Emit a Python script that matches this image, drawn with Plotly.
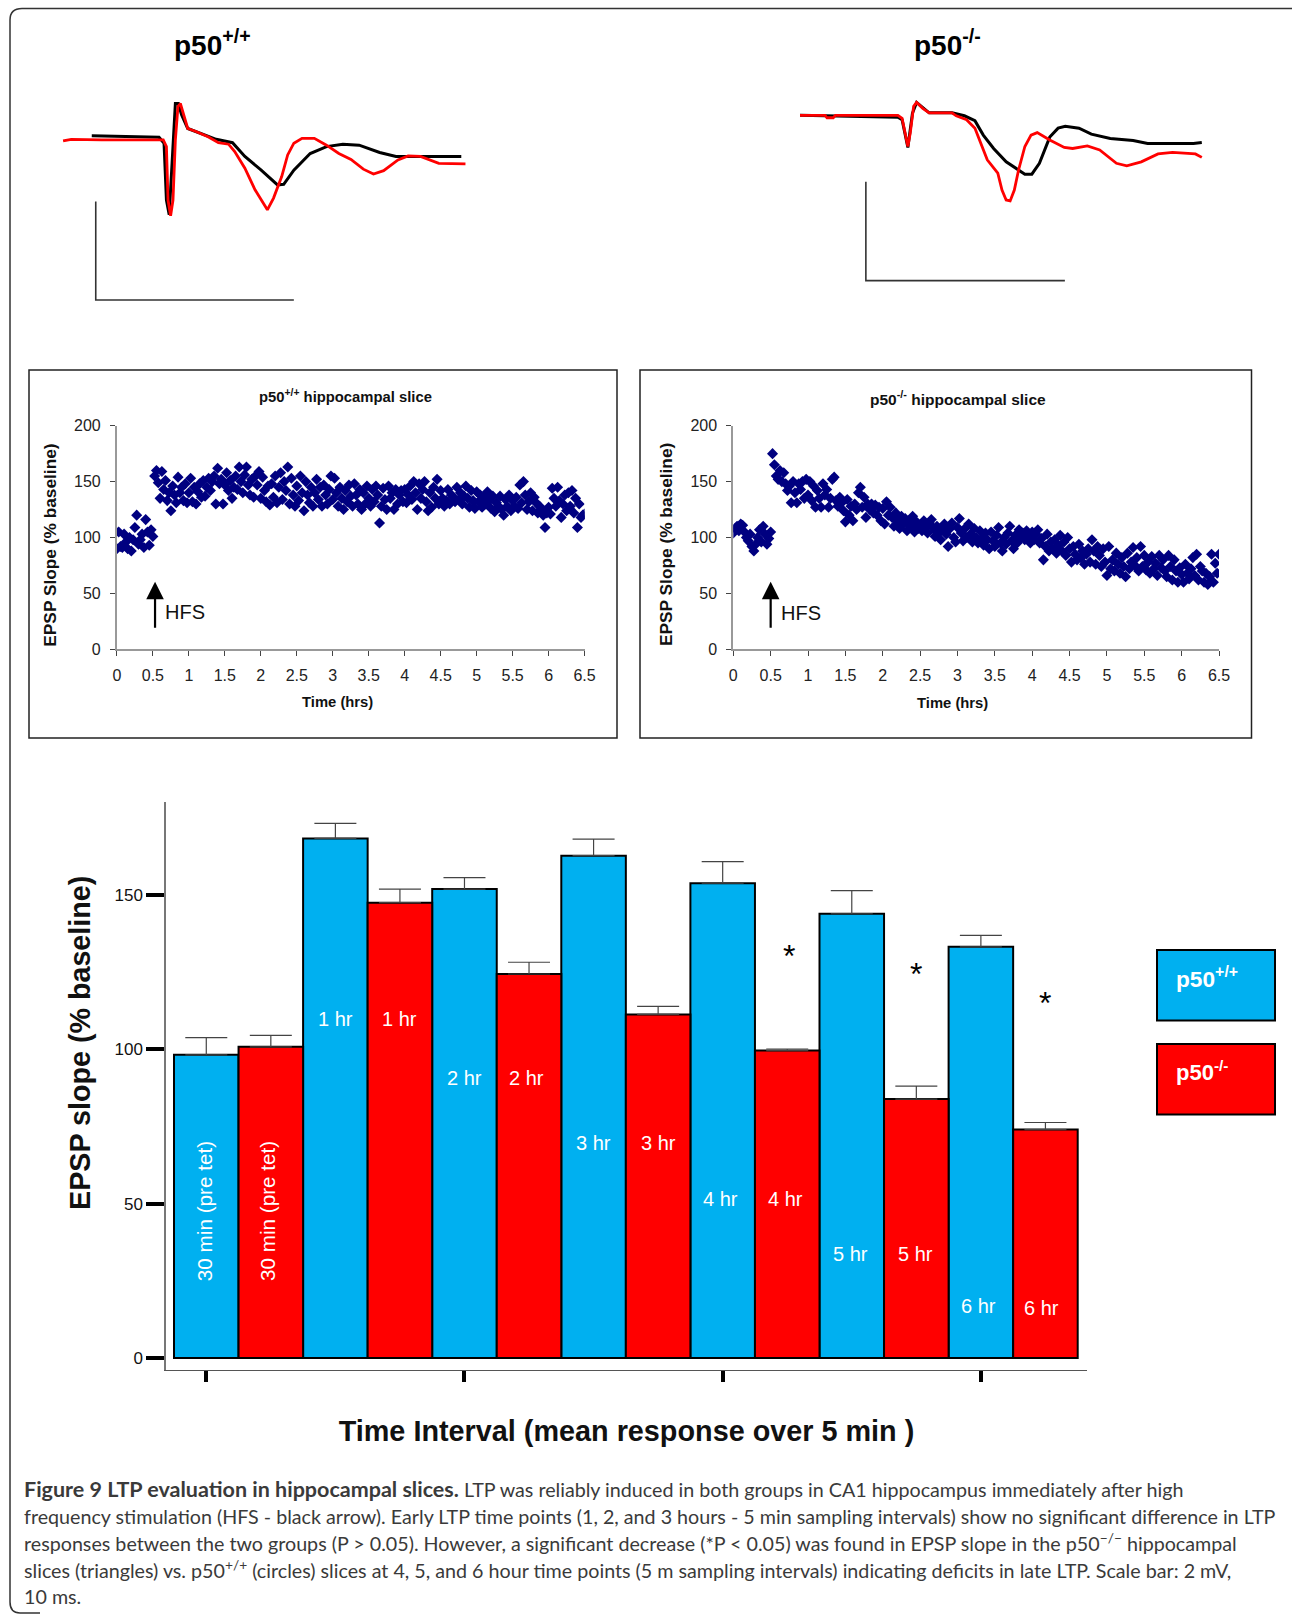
import plotly.graph_objects as go

W = 1292
H = 1614

# bar chart values (% baseline)
bar_labels = ["30 min (pre tet)", "1 hr", "2 hr", "3 hr", "4 hr", "5 hr", "6 hr"]
wt_mean = [98.2, 168.3, 151.9, 162.7, 153.8, 143.9, 133.2]
wt_err = [5.6, 4.9, 3.7, 5.4, 7.0, 7.5, 3.7]
ko_mean = [100.8, 147.5, 124.4, 111.3, 99.6, 83.9, 74.0]
ko_err = [3.7, 4.4, 3.8, 2.6, 0.5, 4.2, 2.3]
wt_pos = [0, 2, 4, 6, 8, 10, 12]
ko_pos = [1, 3, 5, 7, 9, 11, 13]
wt_label_x = [-0.03, 2, 4, 6, 7.97, 9.98, 11.97]
ko_label_x = [0.96, 3, 4.96, 7, 8.97, 10.98, 12.94]
wt_label_y = [47.7, 109.7, 90.6, 69.8, 51.5, 33.8, 16.9]
ko_label_y = [47.7, 109.7, 90.6, 69.8, 51.5, 33.8, 16.2]
star_x = [9.03, 11.0, 13.0]
star_y = [130.3, 124.3, 115]

# scatter panels, time in hrs
scatter_time = [
    0.0, 0.025, 0.05, 0.075, 0.1, 0.125, 0.15, 0.175, 0.2, 0.225, 0.25, 0.275, 0.3, 0.325, 0.35, 0.375, 0.4, 0.425, 0.45, 0.475,
    0.5, 0.525, 0.55, 0.575, 0.6, 0.625, 0.65, 0.675, 0.7, 0.725, 0.75, 0.775, 0.8, 0.825, 0.85, 0.875, 0.9, 0.925, 0.95, 0.975,
    1.0, 1.025, 1.05, 1.075, 1.1, 1.125, 1.15, 1.175, 1.2, 1.225, 1.25, 1.275, 1.3, 1.325, 1.35, 1.375, 1.4, 1.425, 1.45, 1.475,
    1.5, 1.525, 1.55, 1.575, 1.6, 1.625, 1.65, 1.675, 1.7, 1.725, 1.75, 1.775, 1.8, 1.825, 1.85, 1.875, 1.9, 1.925, 1.95, 1.975,
    2.0, 2.025, 2.05, 2.075, 2.1, 2.125, 2.15, 2.175, 2.2, 2.225, 2.25, 2.275, 2.3, 2.325, 2.35, 2.375, 2.4, 2.425, 2.45, 2.475,
    2.5, 2.525, 2.55, 2.575, 2.6, 2.625, 2.65, 2.675, 2.7, 2.725, 2.75, 2.775, 2.8, 2.825, 2.85, 2.875, 2.9, 2.925, 2.95, 2.975,
    3.0, 3.025, 3.05, 3.075, 3.1, 3.125, 3.15, 3.175, 3.2, 3.225, 3.25, 3.275, 3.3, 3.325, 3.35, 3.375, 3.4, 3.425, 3.45, 3.475,
    3.5, 3.525, 3.55, 3.575, 3.6, 3.625, 3.65, 3.675, 3.7, 3.725, 3.75, 3.775, 3.8, 3.825, 3.85, 3.875, 3.9, 3.925, 3.95, 3.975,
    4.0, 4.025, 4.05, 4.075, 4.1, 4.125, 4.15, 4.175, 4.2, 4.225, 4.25, 4.275, 4.3, 4.325, 4.35, 4.375, 4.4, 4.425, 4.45, 4.475,
    4.5, 4.525, 4.55, 4.575, 4.6, 4.625, 4.65, 4.675, 4.7, 4.725, 4.75, 4.775, 4.8, 4.825, 4.85, 4.875, 4.9, 4.925, 4.95, 4.975,
    5.0, 5.025, 5.05, 5.075, 5.1, 5.125, 5.15, 5.175, 5.2, 5.225, 5.25, 5.275, 5.3, 5.325, 5.35, 5.375, 5.4, 5.425, 5.45, 5.475,
    5.5, 5.525, 5.55, 5.575, 5.6, 5.625, 5.65, 5.675, 5.7, 5.725, 5.75, 5.775, 5.8, 5.825, 5.85, 5.875, 5.9, 5.925, 5.95, 5.975,
    6.0, 6.025, 6.05, 6.075, 6.1, 6.125, 6.15, 6.175, 6.2, 6.225, 6.25, 6.275, 6.3, 6.325, 6.35, 6.375, 6.4, 6.425, 6.45, 6.475, 6.5,
]
wt_slope = [
    90, 105, 92, 91, 103, 96, 90, 100, 88, 98, 109, 120, 94, 98, 103, 91, 116, 105, 93, 107,
    101, 155, 160, 149, 135, 159, 143, 151, 133, 140, 124, 146, 138, 131, 154, 140, 145, 133, 148, 131,
    140, 153, 132, 145, 130, 141, 148, 136, 151, 137, 145, 153, 142, 150, 155, 130, 162, 148, 152, 130,
    147, 158, 142, 151, 135, 145, 155, 143, 163, 150, 140, 156, 163, 147, 138, 152, 136, 155, 147, 159,
    135, 154, 142, 132, 146, 129, 148, 136, 155, 131, 145, 158, 134, 150, 142, 163, 130, 153, 138, 128,
    146, 133, 155, 140, 124, 150, 138, 131, 145, 128, 140, 152, 134, 145, 128, 147, 138, 130, 143, 155,
    134, 153, 140, 128, 145, 135, 125, 142, 132, 147, 137, 128, 148, 138, 130, 143, 125, 140, 130, 146,
    135, 128, 143, 132, 146, 138, 113, 128, 144, 134, 125, 146, 135, 140, 125, 143, 130, 138, 142, 132,
    143, 131, 138, 146, 134, 150, 140, 125, 148, 135, 143, 150, 132, 124, 140, 127, 145, 135, 152, 130,
    142, 135, 128, 133, 143, 130, 138, 136, 132, 145, 134, 140, 130, 137, 146, 135, 127, 142, 133, 126,
    141, 132, 138, 127, 136, 130, 141, 133, 126, 137, 123, 131, 128, 137, 125, 120, 134, 128, 138, 124,
    133, 128, 136, 126, 147, 131, 150, 138, 125, 132, 140, 124, 136, 131, 122, 128, 126, 120, 109, 122,
    127, 121, 144, 135, 128, 145, 133, 118, 130, 138, 124, 140, 128, 142, 122, 135, 109, 130, 118, 120, 121,
]
ko_slope = [
    104, 108, 110, 106, 112, 111, 105, 100, 97, 103, 92, 88, 94, 100, 107, 96, 110, 103, 94, 99,
    105, 175, 165, 155, 152, 160, 150, 158, 148, 142, 146, 131, 150, 140, 131, 148, 143, 150, 135, 152,
    138, 150, 133, 146, 127, 142, 135, 127, 148, 138, 143, 127, 135, 152, 154, 133, 128, 136, 131, 124,
    114, 134, 120, 128, 115, 130, 125, 140, 145, 127, 136, 118, 130, 125, 130, 122, 129, 120, 127, 115,
    126, 112, 132, 120, 127, 118, 110, 122, 115, 108, 119, 112, 117, 106, 115, 110, 119, 105, 114, 108,
    111, 106, 115, 110, 104, 113, 116, 108, 101, 110, 104, 98, 107, 112, 103, 92, 108, 113, 100, 96,
    109, 117, 104, 97, 108, 100, 112, 103, 96, 108, 100, 95, 106, 99, 93, 104, 98, 90, 105, 97,
    92, 102, 109, 95, 88, 100, 94, 104, 110, 97, 90, 102, 95, 107, 100, 104, 98, 106, 101, 95,
    105, 98, 103, 107, 95, 99, 80, 92, 103, 88, 96, 90, 98, 86, 93, 102, 88, 96, 84, 100,
    90, 78, 92, 85, 80, 94, 82, 88, 76, 85, 90, 78, 98, 88, 76, 92, 84, 74, 90, 78,
    66, 92, 72, 80, 70, 86, 76, 68, 82, 74, 65, 86, 72, 78, 91, 75, 82, 70, 92, 74,
    84, 71, 78, 68, 83, 72, 77, 66, 84, 73, 80, 70, 65, 84, 74, 62, 80, 70, 60, 73,
    67, 60, 76, 68, 63, 72, 82, 66, 85, 62, 74, 70, 60, 68, 58, 65, 85, 60, 77, 68, 85,
]
x_ticks = [0, 0.5, 1, 1.5, 2, 2.5, 3, 3.5, 4, 4.5, 5, 5.5, 6, 6.5]
x_tick_text = ["0", "0.5", "1", "1.5", "2", "2.5", "3", "3.5", "4", "4.5", "5", "5.5", "6", "6.5"]
y_ticks = [0, 50, 100, 150, 200]

# field potential sweeps, time in ms and response in mV
wt_red_t = [0.06, 0.47, 2.01, 5.09, 5.25, 5.33, 5.46, 5.58, 5.70, 5.83, 5.95, 6.11, 6.32, 6.73, 7.34, 7.86, 8.37, 8.68, 9.19, 9.70,
            10.32, 10.63, 11.04, 11.34, 11.65, 12.06, 12.68, 13.29, 13.91, 14.52, 15.14, 15.65, 16.16, 16.88, 17.39, 18.01, 18.93, 20.27]
wt_red_v = [-0.03, 0, -0.01, -0.01, -0.15, -1.24, -1.56, -1.24, -0.01, 0.67, 0.73, 0.53, 0.22, 0.16, 0.05, -0.07, -0.10, -0.25, -0.59, -1.03,
            -1.44, -1.20, -0.76, -0.32, -0.08, 0.02, 0.02, -0.12, -0.29, -0.41, -0.61, -0.71, -0.64, -0.42, -0.34, -0.35, -0.49, -0.50]
wt_black_t = [1.50, 3.04, 4.88, 5.13, 5.25, 5.39, 5.54, 5.70, 5.85, 6.01, 6.32, 6.93, 7.75, 8.57, 9.19, 10.01, 10.83, 11.14, 11.65,
              12.47, 13.29, 14.11, 14.93, 15.96, 16.78, 20.06]
wt_black_v = [0.07, 0.05, 0.04, -0.08, -1.24, -1.54, -0.42, 0.73, 0.73, 0.50, 0.22, 0.12, 0, -0.07, -0.35, -0.63, -0.93, -0.92, -0.63,
              -0.29, -0.15, -0.10, -0.12, -0.27, -0.35, -0.35]
ko_red_t = [0, 1.26, 1.36, 1.67, 1.78, 4.92, 5.13, 5.42, 5.54, 5.71, 5.86, 6.17, 6.49, 7.64, 7.85, 8.37, 8.79, 9.10, 9.41, 9.94,
            10.15, 10.36, 10.56, 10.77, 10.98, 11.30, 11.61, 11.92, 12.55, 13.28, 13.70, 14.44, 15.06, 15.90, 16.42, 17.15, 17.99, 18.72, 19.87, 20.19]
ko_red_v = [0, 0, -0.05, -0.05, 0, 0, -0.06, -0.63, -0.36, 0.18, 0.26, 0.14, 0.05, 0.05, -0.01, -0.09, -0.26, -0.57, -0.90, -1.17,
            -1.51, -1.71, -1.73, -1.51, -1.11, -0.63, -0.40, -0.35, -0.50, -0.65, -0.67, -0.62, -0.70, -0.97, -1.02, -0.94, -0.78, -0.75, -0.78, -0.85]
ko_black_t = [0, 4.92, 5.13, 5.42, 5.65, 5.86, 6.49, 7.64, 8.26, 8.79, 9.21, 9.73, 10.36, 10.88, 11.30, 11.65, 12.03, 12.55, 12.97, 13.33,
              14.02, 14.64, 15.59, 16.74, 17.47, 19.77, 20.19]
ko_black_v = [0, -0.04, -0.09, -0.65, 0.04, 0.26, 0.05, 0.05, -0.01, -0.11, -0.40, -0.67, -0.94, -1.07, -1.19, -1.19, -0.97, -0.44, -0.26, -0.22,
              -0.26, -0.38, -0.47, -0.51, -0.57, -0.57, -0.55]

# scale bars: 10 ms, 2 mV
wt_scale_t = [1.70, 1.70, 11.65]
wt_scale_v = [-1.27, -3.28, -3.28]
ko_scale_t = [3.31, 3.31, 13.31]
ko_scale_v = [-1.34, -3.34, -3.34]

caption_lines = [
    "<b><span style=\"font-size:21.5px\">Figure 9 LTP evaluation in hippocampal slices.</span></b> LTP was reliably induced in both groups in CA1 hippocampus immediately after high",
    "frequency stimulation (HFS - black arrow). Early LTP time points (1, 2, and 3 hours - 5 min sampling intervals) show no significant difference in LTP",
    "responses between the two groups (P > 0.05). However, a significant decrease (*P < 0.05) was found in EPSP slope in the p50<sup>−/−</sup> hippocampal",
    "slices (triangles) vs. p50<sup>+/+</sup> (circles) slices at 4, 5, and 6 hour time points (5 m sampling intervals) indicating deficits in late LTP. Scale bar: 2 mV,",
    "10 ms.",
]
caption_y = [1489, 1516, 1542, 1569, 1596]

BLUE = "#00B0F0"
RED = "#FF0000"
NAVY = "#000080"
FONT = "Liberation Sans"


def px(x):
    return x / W


def py(y):
    return 1 - y / H


def note(x, y, text, size, color="black", anchor="center", bold=False, family=FONT, angle=0):
    # page text, x6/y6 is a hidden axis pair in page pixels
    if bold:
        text = "<b>" + text + "</b>"
    return dict(x=x, y=y, xref="x6", yref="y6", text=text, showarrow=False, textangle=angle,
                xanchor=anchor, yanchor="middle", font=dict(size=size, color=color, family=family))


fig = go.Figure()

# main bars
fig.add_trace(go.Bar(x=wt_pos, y=wt_mean, width=1, marker=dict(color=BLUE, line=dict(color="black", width=2)),
                     error_y=dict(type="data", symmetric=False, array=wt_err, arrayminus=[0] * 7,
                                  color="#444", thickness=1.2, width=21), showlegend=False))
fig.add_trace(go.Bar(x=ko_pos, y=ko_mean, width=1, marker=dict(color=RED, line=dict(color="black", width=2)),
                     error_y=dict(type="data", symmetric=False, array=ko_err, arrayminus=[0] * 7,
                                  color="#444", thickness=1.2, width=21), showlegend=False))

# scatter panels
fig.add_trace(go.Scatter(x=scatter_time, y=wt_slope, mode="markers", xaxis="x2", yaxis="y2", showlegend=False,
                         marker=dict(symbol="diamond", size=8.5, color=NAVY)))
fig.add_trace(go.Scatter(x=scatter_time, y=ko_slope, mode="markers", xaxis="x3", yaxis="y3", showlegend=False,
                         marker=dict(symbol="diamond", size=8.5, color=NAVY)))

# sweeps
fig.add_trace(go.Scatter(x=wt_black_t, y=wt_black_v, mode="lines", xaxis="x4", yaxis="y4", showlegend=False,
                         line=dict(color="black", width=3)))
fig.add_trace(go.Scatter(x=wt_red_t, y=wt_red_v, mode="lines", xaxis="x4", yaxis="y4", showlegend=False,
                         line=dict(color="#FF0000", width=2.8)))
fig.add_trace(go.Scatter(x=wt_scale_t, y=wt_scale_v, mode="lines", xaxis="x4", yaxis="y4", showlegend=False,
                         line=dict(color="#333", width=1.6)))
fig.add_trace(go.Scatter(x=ko_black_t, y=ko_black_v, mode="lines", xaxis="x5", yaxis="y5", showlegend=False,
                         line=dict(color="black", width=3)))
fig.add_trace(go.Scatter(x=ko_red_t, y=ko_red_v, mode="lines", xaxis="x5", yaxis="y5", showlegend=False,
                         line=dict(color="#FF0000", width=2.8)))
fig.add_trace(go.Scatter(x=ko_scale_t, y=ko_scale_v, mode="lines", xaxis="x5", yaxis="y5", showlegend=False,
                         line=dict(color="#333", width=1.6)))
# empty trace so the page axes exist
fig.add_trace(go.Scatter(x=[], y=[], xaxis="x6", yaxis="y6", showlegend=False))

annotations = []

# labels inside bars
annotations.append(dict(x=wt_label_x[0], y=wt_label_y[0], xref="x", yref="y", text=bar_labels[0], textangle=-90, showarrow=False,
                        font=dict(size=20.7, color="white", family=FONT)))
annotations.append(dict(x=ko_label_x[0], y=ko_label_y[0], xref="x", yref="y", text=bar_labels[0], textangle=-90, showarrow=False,
                        font=dict(size=20.7, color="white", family=FONT)))
for i in range(1, 7):
    annotations.append(dict(x=wt_label_x[i], y=wt_label_y[i], xref="x", yref="y", text=bar_labels[i], showarrow=False,
                            font=dict(size=20, color="white", family=FONT)))
    annotations.append(dict(x=ko_label_x[i], y=ko_label_y[i], xref="x", yref="y", text=bar_labels[i], showarrow=False,
                            font=dict(size=20, color="white", family=FONT)))
for i in range(3):
    annotations.append(dict(x=star_x[i], y=star_y[i], xref="x", yref="y", text="*", showarrow=False,
                            font=dict(size=32, color="black", family=FONT)))

# HFS arrows
annotations.append(dict(x=0.53, y=60.5, ax=0.53, ay=18, xref="x2", yref="y2", axref="x2", ayref="y2", text="",
                        showarrow=True, arrowhead=2, arrowsize=1.6, arrowwidth=2.2, arrowcolor="black"))
annotations.append(dict(x=0.5, y=60.5, ax=0.5, ay=18, xref="x3", yref="y3", axref="x3", ayref="y3", text="",
                        showarrow=True, arrowhead=2, arrowsize=1.6, arrowwidth=2.2, arrowcolor="black"))
annotations.append(note(185, 612, "HFS", 20, "#111"))
annotations.append(note(801, 613, "HFS", 20, "#111"))

# titles
annotations.append(note(172, 43, "p50<sup>+/+</sup>", 28, anchor="left", bold=True))
annotations.append(note(912, 43, "p50<sup>-/-</sup>", 28, anchor="left", bold=True))
annotations.append(note(345, 396, "p50<sup>+/+</sup> hippocampal slice", 14.8, "#111", bold=True))
annotations.append(note(958, 398, "p50<sup>-/-</sup> hippocampal slice", 15.5, "#111", bold=True))

# axis titles that sit off the centre of their axes
annotations.append(note(49.7, 545, "EPSP Slope (% baseline)", 17.3, "#111", bold=True, angle=-90))
annotations.append(note(666, 545, "EPSP Slope (% baseline)", 17.3, "#111", bold=True, angle=-90))
annotations.append(note(337.5, 702, "Time (hrs)", 14.8, "#111", bold=True))
annotations.append(note(952.6, 703, "Time (hrs)", 14.8, "#111", bold=True))
annotations.append(note(80, 1043, "EPSP slope (% baseline)", 28.7, "#111", bold=True, angle=-90))

# legend box texts
annotations.append(note(1174, 977, "p50<sup>+/+</sup>", 22.7, "white", anchor="left", bold=True))
annotations.append(note(1174, 1071, "p50<sup>-/-</sup>", 22, "white", anchor="left", bold=True))

# caption
for line, y in zip(caption_lines, caption_y):
    annotations.append(note(22, y, line, 19.7, "#3a3a3a", anchor="left", family="Lato"))

page = dict(xref="x6", yref="y6")
shapes = [
    # page frame, runs off the right side
    dict(type="path", line=dict(color="#333", width=1.5), **page,
         path="M 1300 8.5 L 22 8.5 Q 10 8.5 10 20 L 10 1602 Q 10 1613 20 1613 L 40 1613"),
    # panel boxes
    dict(type="rect", x0=29, x1=617, y0=370, y1=738, line=dict(color="#222", width=1.5), **page),
    dict(type="rect", x0=640, x1=1251.5, y0=370, y1=738, line=dict(color="#222", width=1.5), **page),
    # legend boxes
    dict(type="rect", x0=1157, x1=1275, y0=950, y1=1020.5, fillcolor=BLUE, line=dict(color="black", width=2), **page),
    dict(type="rect", x0=1157, x1=1275, y0=1044, y1=1114.5, fillcolor=RED, line=dict(color="black", width=2), **page),
]

panel_x = dict(tickmode="array", tickvals=x_ticks, ticktext=x_tick_text, range=[0, 6.5], ticks="outside", ticklen=5, tickwidth=1,
               tickcolor="#444", showline=True, linecolor="#999", linewidth=2, showgrid=False, zeroline=False, automargin=False,
               tickfont=dict(size=16, color="#222", family=FONT), ticklabelstandoff=5)
panel_y = dict(tickmode="array", tickvals=y_ticks, range=[0, 200], ticks="outside", ticklen=5, tickwidth=1,
               tickcolor="#444", showline=True, linecolor="#999", linewidth=2, showgrid=False, zeroline=False, automargin=False,
               tickfont=dict(size=16, color="#222", family=FONT), ticklabelstandoff=6)
hidden = dict(visible=False, showgrid=False, zeroline=False, automargin=False)

fig.update_layout(
    width=W, height=H, margin=dict(l=0, r=0, t=0, b=0), autosize=False,
    paper_bgcolor="white", plot_bgcolor="rgba(0,0,0,0)", barmode="overlay", hovermode=False,
    font=dict(family=FONT), annotations=annotations, shapes=shapes,
    xaxis=dict(domain=[px(166), px(1087)], range=[-0.624, 13.644], tickmode="array", tickvals=[0, 4, 8, 12], ticktext=["", "", "", ""],
               ticks="outside", ticklen=11, tickwidth=3.5, tickcolor="black", showline=True, linecolor="#555", linewidth=1.2,
               showgrid=False, zeroline=False, automargin=False,
               title=dict(text="<b>Time Interval (mean response over 5 min )</b>", standoff=37, font=dict(size=28.8, color="#111", family=FONT))),
    yaxis=dict(domain=[py(1369.5), py(802)], range=[-3.7, 180.1], tickmode="array", tickvals=[0, 50, 100, 150],
               ticks="outside", ticklen=18, tickwidth=3.5, tickcolor="black", showline=True, linecolor="#777", linewidth=1.5,
               showgrid=False, zeroline=False, automargin=False, tickfont=dict(size=17, color="#111", family=FONT)),
    xaxis2=dict(domain=[px(116.9), px(584.6)], anchor="y2", **panel_x),
    yaxis2=dict(domain=[py(649.3), py(425.7)], anchor="x2", **panel_y),
    xaxis3=dict(domain=[px(733.3), px(1219)], anchor="y3", **panel_x),
    yaxis3=dict(domain=[py(649.3), py(425.7)], anchor="x3", **panel_y),
    xaxis4=dict(domain=[px(40), px(480)], range=[-1.1, 21.0], anchor="y4", **hidden),
    yaxis4=dict(domain=[py(320), py(90)], range=[-3.688, 1.006], anchor="x4", **hidden),
    xaxis5=dict(domain=[px(780), px(1240)], range=[-1.005, 22.11], anchor="y5", **hidden),
    yaxis5=dict(domain=[py(320), py(90)], range=[-4.135, 0.511], anchor="x5", **hidden),
    # page pixels, for the frame, boxes and free text
    xaxis6=dict(domain=[0, 1], range=[0, W], anchor="y6", **hidden),
    yaxis6=dict(domain=[0, 1], range=[H, 0], anchor="x6", **hidden),
)

fig.write_html("out.html", config={"displayModeBar": False},
               post_script="document.body.style.margin='0';document.body.style.overflow='hidden';")
